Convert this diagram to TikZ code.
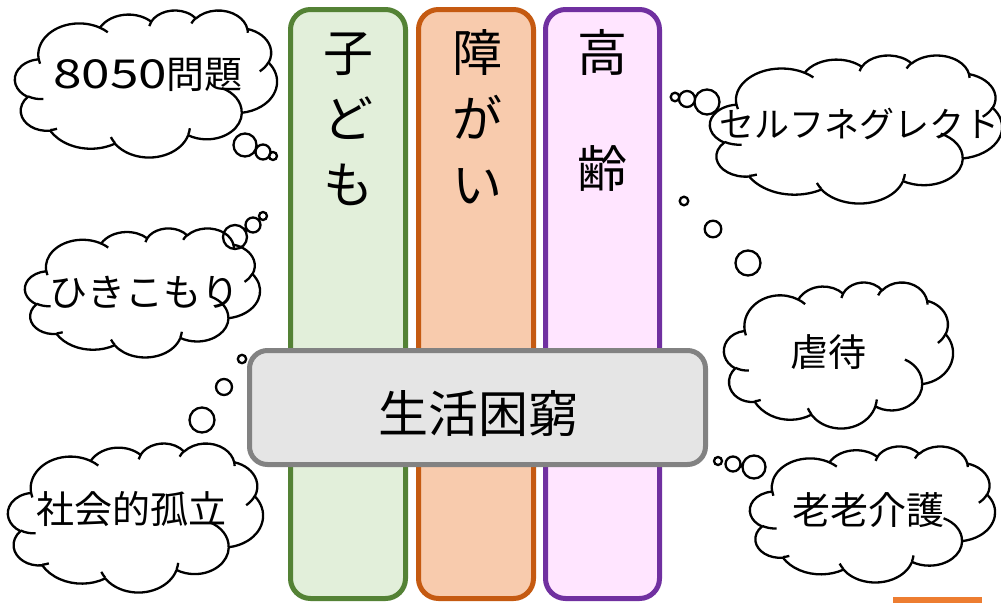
\documentclass[tikz,border=0pt]{standalone}
\usepackage{fontspec}
\newfontfamily\jp{Noto Sans CJK JP}
\definecolor{grnS}{HTML}{548235}
\definecolor{grnF}{HTML}{E2EFDA}
\definecolor{orS}{HTML}{C55A11}
\definecolor{orF}{HTML}{F8CBAD}
\definecolor{puS}{HTML}{7030A0}
\definecolor{puF}{HTML}{FFE5FF}
\definecolor{gyS}{HTML}{828282}
\definecolor{gyF}{HTML}{E5E5E5}
\definecolor{accO}{HTML}{ED7D31}
\tikzset{
 ooarc/.style n args={4}{insert path={arc[x radius=#1, y radius=#2,
   start angle={atan2((#1)*sin(#3),(#2)*cos(#3))},
   delta angle={atan2((#1)*sin((#3)+(#4)),(#2)*cos((#3)+(#4)))-atan2((#1)*sin(#3),(#2)*cos(#3))-360*round((atan2((#1)*sin((#3)+(#4)),(#2)*cos((#3)+(#4)))-atan2((#1)*sin(#3),(#2)*cos(#3))-(#4))/360)}]}},
 cloudline/.style={draw=black, line width=2.3pt, line join=round},
 bubble/.style={draw=black, line width=2.3pt},
 column/.style={line width=5pt, rounded corners=20pt, minimum height=589pt, inner sep=0pt},
 mainbox/.style={draw=gyS, fill=gyF, line width=5pt, rounded corners=18pt, minimum width=456pt, minimum height=114pt, inner sep=0pt},
 coltext/.style={font=\jp\fontsize{50}{60}\selectfont, anchor=base, inner sep=0pt},
 cloudtext/.style={font=\jp\fontsize{38}{44}\selectfont, anchor=base, inner sep=0pt},
}
% cloud: #1 x, #2 y (top-left), #3 width, #4 height
\newcommand\ooCloud[4]{%
 \pgfmathsetmacro\ocx{#3/43.2}%
 \pgfmathsetmacro\ocy{#4/43.2}%
 \begin{scope}[shift={(#1,#2)}, x={(\ocx pt,0pt)}, y={(0pt,-\ocy pt)}]
  \filldraw[cloudline, fill=white] (3.900,14.370)
   [ooarc={6.753}{9.190}{-190.4875}{123.7805}]
   [ooarc={5.333}{7.267}{-144.1024}{89.9452}]
   [ooarc={4.365}{5.945}{-145.8079}{99.7230}]
   [ooarc={4.857}{6.595}{-130.9861}{117.2417}]
   [ooarc={5.333}{7.273}{-78.7089}{109.0269}]
   [ooarc={6.775}{9.220}{-46.2673}{130.2690}]
   [ooarc={5.785}{7.867}{0.6250}{114.0333}]
   [ooarc={6.752}{9.215}{22.4516}{115.1726}]
   [ooarc={7.720}{10.543}{66.2426}{75.7110}]
   [ooarc={4.360}{5.918}{-274.9421}{146.7356}]
   [ooarc={4.345}{5.945}{-246.8285}{152.5189}] -- cycle;
  \draw[cloudline]
   (4.693,26.177) [ooarc={4.345}{5.945}{86.7420}{26.4295}]
   (6.928,34.899) [ooarc={4.360}{5.918}{73.6105}{11.4475}]
   (16.478,39.090) [ooarc={6.752}{9.215}{137.6242}{14.0811}]
   (28.827,34.751) [ooarc={6.752}{9.215}{6.4533}{15.9984}]
   (34.129,22.954) [ooarc={5.785}{7.867}{-70.2924}{70.9174}]
   (41.798,15.354) [ooarc={5.333}{7.273}{30.3180}{27.7515}]
   (38.324,5.426) [ooarc={4.857}{6.595}{-13.7443}{14.8589}]
   (29.078,3.952) [ooarc={4.857}{6.595}{-149.1815}{18.1954}]
   (22.141,4.720) [ooarc={4.365}{5.945}{-163.4943}{17.6864}]
   (14.000,5.192) [ooarc={6.753}{9.190}{-66.7070}{12.3194}]
   (4.127,15.789) [ooarc={6.753}{9.190}{157.6544}{11.8582}];
 \end{scope}}
\begin{document}
\begin{tikzpicture}[x=1pt, y=-1pt]
\useasboundingbox (0,0) rectangle (1001,603);
\fill[white] (0,0) rectangle (1001,603);
\clip (0,0) rectangle (1001,603);
% columns
\node[column, draw=grnS, fill=grnF, minimum width=115pt] (colK) at (348,304) {};
\node[column, draw=orS, fill=orF, minimum width=115pt] (colS) at (476,304) {};
\node[column, draw=puS, fill=puF, minimum width=114pt] (colR) at (602.5,304) {};
\node[coltext] (tK1) at (348,71) {子};
\node[coltext] (tK2) at (348,137) {ど};
\node[coltext] (tK3) at (348,203) {も};
\node[coltext] (tS1) at (477,71) {障};
\node[coltext] (tS2) at (477,137) {が};
\node[coltext] (tS3) at (477,203) {い};
\node[coltext] (tR1) at (602,71) {高};
\node[coltext] (tR2) at (602,187) {齢};
% central box
\node[mainbox] (center) at (477.5,407.5) {};
\node[coltext] (centerText) at (478,432) {生活困窮};
% clouds
\ooCloud{15}{10}{262}{147}
\node[cloudtext] (c8050) at (148,88) {\scalebox{1.35}[1.05]{8050}問題};
\draw[bubble] (245,145) circle[radius=11.5] (263,152) circle[radius=7.5] (273,156) circle[radius=4];
\ooCloud{710}{55}{292}{148}
\node[cloudtext, anchor=base west, font=\jp\fontsize{35}{40}\selectfont] (cSelf) at (719,137) {セルフネグレクト};
\draw[bubble] (675,97) circle[radius=4.3] (687,99) circle[radius=8] (707,102) circle[radius=12.5];
\ooCloud{25}{228}{235}{129}
\node[cloudtext] (cHiki) at (144,306) {ひきこもり};
\draw[bubble] (235,237) circle[radius=12] (253,225) circle[radius=7.5] (263,216) circle[radius=4];
\ooCloud{724}{282}{229}{146}
\node[cloudtext] (cGyak) at (828,366) {虐待};
\draw[bubble] (684,201) circle[radius=4.3] (713,229) circle[radius=8.3] (748,263) circle[radius=12.5];
\ooCloud{8}{443}{255}{149}
\node[cloudtext] (cKoritsu) at (131,523) {社会的孤立};
\draw[bubble] (202,420) circle[radius=12.5] (224,387) circle[radius=8] (242,359) circle[radius=4.2];
\ooCloud{750}{446}{245}{136}
\node[cloudtext] (cRoro) at (868,524) {老老介護};
\draw[bubble] (718,461) circle[radius=4] (733,464) circle[radius=7.5] (754,467) circle[radius=11.5];
% accent line
\fill[accO] (893,597) rectangle (982,603);
\end{tikzpicture}
\end{document}
